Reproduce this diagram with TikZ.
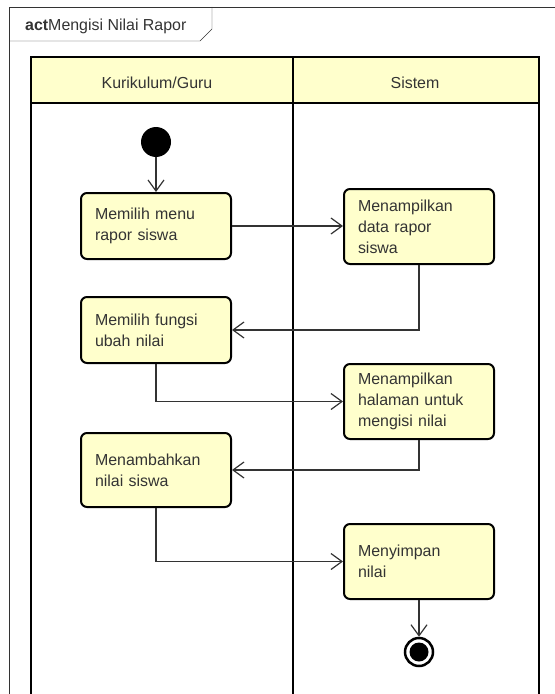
\documentclass[tikz,border=0pt]{standalone}
\usepackage{fontspec}
\setmainfont{Liberation Sans}
\usetikzlibrary{arrows.meta}
\definecolor{actfill}{HTML}{FFFFCC}
\definecolor{ink}{HTML}{333333}

\begin{document}
\begin{tikzpicture}[x=1bp,y=-1bp,font=\fontsize{16}{21}\selectfont]
    \useasboundingbox (0,0) rectangle (555,694);

    % frame with its name tab
    \draw [ink] (555,7) -- (9,7) -- (9,694);
    \draw [ink] (9,41) -- (200,41) -- (212,29) -- (212,7);
    \node [anchor=west, text=ink, inner sep=0] (T) at (25,26) {\textbf{act}Mengisi Nilai Rapor};

    % swimlanes
    \fill [actfill] (31,57) rectangle (539,103);
    \draw [line width=2.5bp] (31,694) -- (31,57) -- (539,57) -- (539,694);
    \draw [line width=2.5bp] (31,103) -- (539,103);
    \draw [line width=2.5bp] (293,57) -- (293,694);
    \node [text=ink] (L1) at (157,83) {Kurikulum/Guru};
    \node [text=ink] (L2) at (415,83) {Sistem};

    \begin{scope}[every node/.style={rectangle,rounded corners=6bp,draw,line width=2bp,
                  fill=actfill,text=ink,text width=122bp,align=left,inner xsep=14bp}]
        \node (A) [minimum height=66bp] at (156,226)   {Memilih menu\\rapor siswa};
        \node (B) [minimum height=75bp] at (419,226.5) {Menampilkan\\data rapor\\siswa};
        \node (C) [minimum height=66bp] at (156,330)   {Memilih fungsi\\ubah nilai};
        \node (D) [minimum height=75bp] at (419,401.5) {Menampilkan\\halaman untuk\\mengisi nilai};
        \node (E) [minimum height=74bp] at (156,470)   {Menambahkan\\nilai siswa};
        \node (F) [minimum height=75bp] at (419,561.5) {Menyimpan\\nilai};
    \end{scope}

    % start and end
    \node (S) [circle,fill=black,minimum size=30bp,inner sep=0] at (156,142) {};
    \node (Z) [circle,draw=black,line width=2.5bp,minimum size=28bp,inner sep=0] at (419,652) {};
    \fill (Z.center) circle (9.5bp);

    \begin{scope}[>={Straight Barb[length=11bp,width=16bp]},
                  every path/.style={draw=ink,line width=1.2bp}]
        \draw [->] (S) -- (A);
        \draw [->] (A.east) -- (B.west |- A.east);
        \draw [->] (B.south) |- (C);
        \draw [->] (C.south) |- (D);
        \draw [->] (D.south) |- (E);
        \draw [->] (E.south) |- (F);
        \draw [->] (F) -- (Z);
    \end{scope}
\end{tikzpicture}
\end{document}
